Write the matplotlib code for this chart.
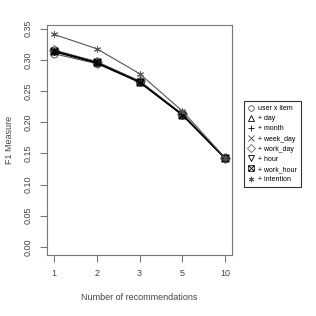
import matplotlib
matplotlib.use("Agg")
import matplotlib.pyplot as plt
from matplotlib.path import Path
import numpy as np

recs = ["1", "2", "3", "5", "10"]

user_item = [0.310, 0.294, 0.264, 0.211, 0.142]
day = [0.314, 0.296, 0.265, 0.212, 0.142]
month = [0.315, 0.297, 0.266, 0.213, 0.143]
week_day = [0.314, 0.296, 0.265, 0.212, 0.142]
work_day = [0.316, 0.297, 0.266, 0.213, 0.142]
hour = [0.313, 0.295, 0.264, 0.212, 0.142]
work_hour = [0.315, 0.296, 0.265, 0.212, 0.142]
intention = [0.341, 0.318, 0.278, 0.218, 0.143]

labels = ["user x item", "+ day", "+ month", "+ week_day", "+ work_day",
          "+ hour", "+ work_hour", "+ intention"]
series = [user_item, day, month, week_day, work_day, hour, work_hour, intention]

# square with a cross inside (like R pch 7)
sqx = Path([(-1, -1), (1, -1), (1, 1), (-1, 1), (-1, -1), (-1, -1), (1, 1), (-1, 1), (1, -1)],
           [Path.MOVETO, Path.LINETO, Path.LINETO, Path.LINETO, Path.CLOSEPOLY,
            Path.MOVETO, Path.LINETO, Path.MOVETO, Path.LINETO])
markers = ["o", "^", "+", "x", "D", "v", sqx, (6, 2, 0)]
colors = ["#555555", "black", "black", "#444444", "#666666", "black", "black", "#555555"]

plt.rcParams['font.family'] = ['Liberation Sans', 'DejaVu Sans']

fig = plt.figure(figsize=(3.16, 3.16), dpi=100)
ax = fig.add_axes([47/316, 61/316, 185/316, 230/316])

x = np.arange(len(recs))
handles = []
for vals, lab, m, c in zip(series, labels, markers, colors):
    h, = ax.plot(x, vals, color=c, lw=0.8, marker=m, ms=5,
                 mfc="none", mec=c, mew=0.7, label=lab)
    handles.append(h)

ax.set_xlim(-0.16, 4.16)
ax.set_ylim(-0.013, 0.356)
ax.set_xticks(x)
ax.set_xticklabels(recs)
yt = np.arange(0, 0.36, 0.05)
ax.set_yticks(yt)
ax.set_yticklabels(["%.2f" % v for v in yt], rotation=90, va="center")

for s in ax.spines.values():
    s.set_color("#777777")
    s.set_linewidth(0.8)
ax.tick_params(colors="#777777", labelcolor="#444444", labelsize=6.5, length=5, width=0.8, pad=5)

ax.set_xlabel("Number of recommendations", fontsize=6.5, color="#444444", labelpad=11)
ax.set_ylabel("F1 Measure", fontsize=6.5, color="#444444", labelpad=7)

leg_handles = [plt.Line2D([], [], ls="none", marker=h.get_marker(), color=h.get_color(),
                          mfc="none", mec=h.get_color(), ms=4, mew=0.6) for h in handles]
leg = fig.legend(handles=leg_handles, labels=labels, loc="upper left",
                 bbox_to_anchor=(244/316, 1 - 101/316),
                 fontsize=5, frameon=True, fancybox=False, edgecolor="black",
                 handlelength=0.8, handletextpad=0.6, labelspacing=0.45, borderpad=0.6,
                 borderaxespad=0)
leg.get_frame().set_linewidth(0.8)

fig.savefig("out.png", dpi=100)
